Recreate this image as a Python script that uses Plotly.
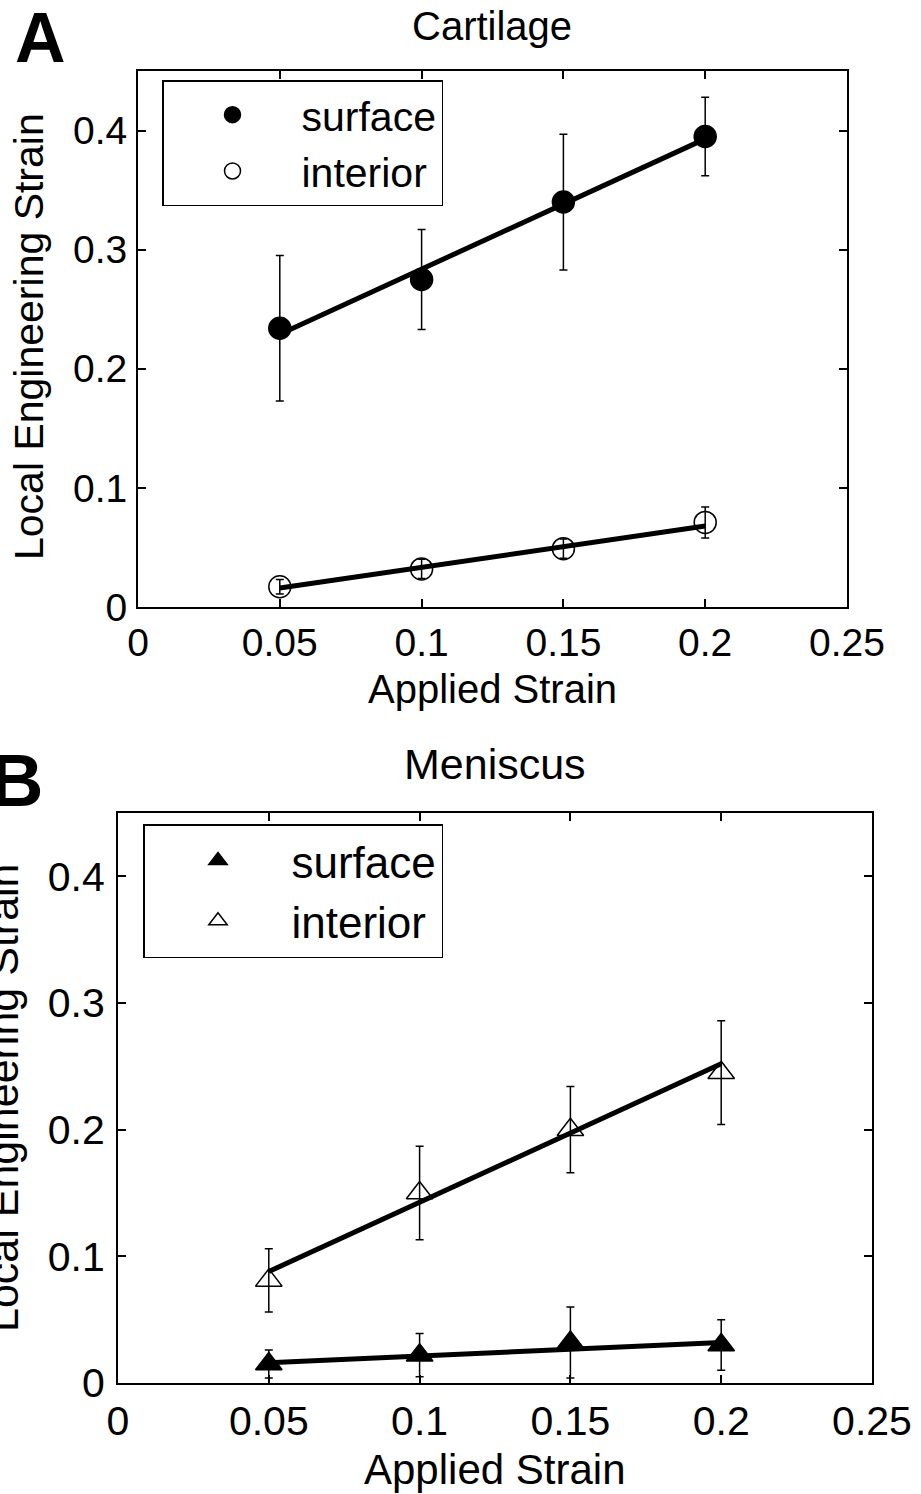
import plotly.graph_objects as go

# ---------------- data ----------------
strain = [0.05, 0.10, 0.15, 0.20]
fit_x = [0.05, 0.20]

cart_surface = [0.234, 0.275, 0.340, 0.395]
cart_surface_err = [0.061, 0.042, 0.057, 0.033]
cart_interior = [0.017, 0.032, 0.049, 0.071]
cart_interior_err = [0.006, 0.008, 0.008, 0.013]
cart_surface_fit = [0.229, 0.393]
cart_interior_fit = [0.016, 0.068]

men_surface = [0.015, 0.022, 0.032, 0.030]
men_surface_err = [0.011, 0.017, 0.028, 0.020]
men_interior = [0.081, 0.150, 0.200, 0.245]
men_interior_err = [0.025, 0.037, 0.034, 0.041]
men_surface_fit = [0.016, 0.032]
men_interior_fit = [0.088, 0.252]

x_ticks = [0, 0.05, 0.10, 0.15, 0.20, 0.25]
x_ticktext = ["0", "0.05", "0.1", "0.15", "0.2", "0.25"]
y_ticks = [0, 0.1, 0.2, 0.3, 0.4]
y_ticktext = ["0", "0.1", "0.2", "0.3", "0.4"]

series_names = ["surface", "interior"]
panel_titles = ["Cartilage", "Meniscus"]
panel_letters = ["A", "B"]
x_title = "Applied Strain"
y_title = "Local Engineering Strain"

# ---------------- layout helpers ----------------
W, H = 921, 1494
FONT = "Liberation Sans, Arial, sans-serif"


def px_x(p):
    return p / W


def px_y(p):
    return 1 - p / H


fig = go.Figure()

BLACK = "black"
CLEAR = "rgba(0,0,0,0)"


def add_panel(xa, ya, legend, ys, errs, fits, symbols, msize):
    # fitted lines
    for f in fits:
        fig.add_trace(go.Scatter(
            x=fit_x, y=f, mode="lines", xaxis=xa, yaxis=ya,
            line=dict(color=BLACK, width=5), showlegend=False, hoverinfo="skip"))
    # data with error bars
    for name, y, e, (sym, fill) in zip(series_names, ys, errs, symbols):
        fig.add_trace(go.Scatter(
            x=strain, y=y, mode="markers", name=name, xaxis=xa, yaxis=ya,
            legend=legend,
            marker=dict(symbol=sym, size=msize, color=fill,
                        line=dict(color=BLACK, width=1.5)),
            error_y=dict(type="data", array=e, visible=True, color=BLACK,
                         thickness=1.5, width=4)))


add_panel("x", "y", "legend",
          [cart_surface, cart_interior],
          [cart_surface_err, cart_interior_err],
          [cart_surface_fit, cart_interior_fit],
          [("circle", BLACK), ("circle", CLEAR)], 22)
add_panel("x2", "y2", "legend2",
          [men_surface, men_interior],
          [men_surface_err, men_interior_err],
          [men_surface_fit, men_interior_fit],
          [("triangle-up", BLACK), ("triangle-up", CLEAR)], 23)


def axis(domain, anchor, ticks, ticktext, rng, fs, standoff):
    return dict(
        domain=domain, anchor=anchor, range=rng, automargin=False,
        tickmode="array", tickvals=ticks, ticktext=ticktext,
        ticks="inside", ticklen=8, tickwidth=1.5, tickcolor=BLACK,
        showline=True, linecolor=BLACK, linewidth=2, mirror="allticks",
        showgrid=False, zeroline=False,
        tickfont=dict(family=FONT, size=fs, color=BLACK),
        ticklabelstandoff=standoff,
    )


# panel A: frame x 138..847, y 71..607
# panel B: frame x 118..872, y 813..1383
fig.update_layout(
    xaxis=axis([px_x(138), px_x(847)], "y", x_ticks, x_ticktext, [0, 0.25], 39, 0),
    yaxis=axis([px_y(607), px_y(71)], "x", y_ticks, y_ticktext, [0, 0.45], 39, 1),
    xaxis2=axis([px_x(118), px_x(872)], "y2", x_ticks, x_ticktext, [0, 0.25], 41, 1),
    yaxis2=axis([px_y(1383), px_y(813)], "x2", y_ticks, y_ticktext, [0, 0.45], 41, 3),
)

legend_common = dict(
    xanchor="left", yanchor="top", bgcolor="white",
    bordercolor=BLACK, borderwidth=1.5, itemsizing="trace",
)
fig.update_layout(
    legend=dict(x=px_x(162), y=px_y(80), itemwidth=128,
                font=dict(family=FONT, size=41, color=BLACK), **legend_common),
    legend2=dict(x=px_x(143), y=px_y(824), itemwidth=137,
                 font=dict(family=FONT, size=44, color=BLACK), **legend_common),
)

annotations = [
    # panel titles
    dict(text=panel_titles[0], x=px_x(492), y=px_y(26), font_size=40),
    dict(text=panel_titles[1], x=px_x(495), y=px_y(764), font_size=43),
    # panel letters
    dict(text="<b>%s</b>" % panel_letters[0], x=px_x(40), y=px_y(38), font_size=70),
    dict(text="<b>%s</b>" % panel_letters[1], x=px_x(16), y=px_y(780), font_size=74),
    # x axis titles
    dict(text=x_title, x=px_x(492), y=px_y(689), font_size=40),
    dict(text=x_title, x=px_x(495), y=px_y(1469), font_size=42),
    # y axis titles
    dict(text=y_title, x=px_x(29), y=px_y(337), font_size=41, textangle=-90),
    dict(text=y_title, x=px_x(3), y=px_y(1098), font_size=43, textangle=-90),
]
for a in annotations:
    fs = a.pop("font_size")
    fig.add_annotation(xref="paper", yref="paper", xanchor="center",
                       yanchor="middle", showarrow=False,
                       font=dict(family=FONT, size=fs, color=BLACK), **a)

fig.update_layout(
    width=W, height=H,
    margin=dict(l=0, r=0, t=0, b=0, autoexpand=False),
    paper_bgcolor="white", plot_bgcolor="white",
)

fig.write_html(
    "out.html",
    config={"displayModeBar": False},
    post_script="document.body.style.margin='0';document.body.style.padding='0';",
)
